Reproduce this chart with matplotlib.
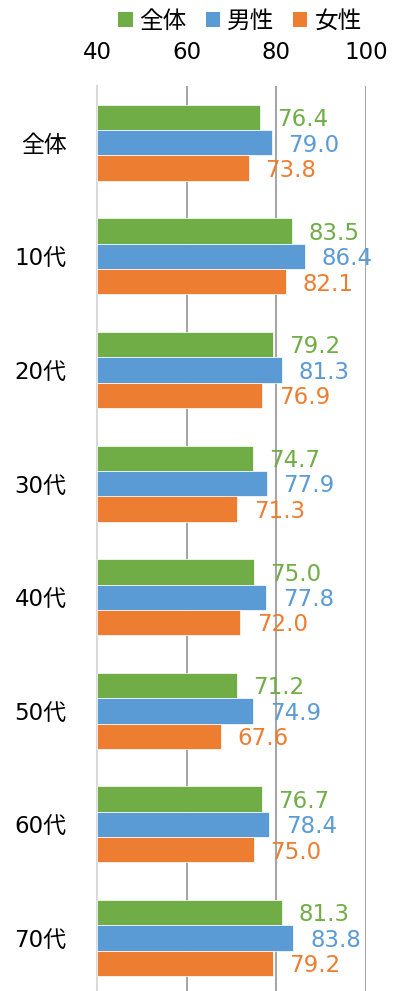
import numpy as np
import matplotlib
matplotlib.use("Agg")
import matplotlib.pyplot as plt
from matplotlib.patches import Patch

plt.rcParams["font.family"] = ["DejaVu Sans", "Noto Sans CJK JP"]

categories = ["全体", "10代", "20代", "30代", "40代", "50代", "60代", "70代"]
series_names = ["全体", "男性", "女性"]
total = [76.4, 83.5, 79.2, 74.7, 75.0, 71.2, 76.7, 81.3]
male = [79.0, 86.4, 81.3, 77.9, 77.8, 74.9, 78.4, 83.8]
female = [73.8, 82.1, 76.9, 71.3, 72.0, 67.6, 75.0, 79.2]
xticks = [40, 60, 80, 100]

colors = ["#70ad47", "#5b9bd5", "#ed7d31"]
values = [total, male, female]

W, H = 417, 991
fig = plt.figure(figsize=(W / 100, H / 100), dpi=100)
ax = fig.add_axes([97 / W, 0, (366 - 97) / W, (H - 86) / H])

y = np.arange(len(categories))
h = 0.223
for i, (vals, c) in enumerate(zip(values, colors)):
    pos = y + (i - 1) * h
    ax.barh(pos, np.array(vals) - 40, height=h, left=40, color=c,
            edgecolor="white", linewidth=0.5, zorder=3)
    for p, v in zip(pos, vals):
        ax.annotate(f"{v:.1f}", (v, p + 0.02), xytext=(12, 0), textcoords="offset points",
                    ha="left", va="center", fontsize=16.5, color=c)

ax.set_xlim(40, 100)
ax.set_ylim(7.466, -0.5)
ax.set_xticks(xticks)
ax.xaxis.tick_top()
ax.tick_params(axis="x", length=0, pad=16, labelsize=16.5)
ax.set_yticks(y)
ax.set_yticklabels(categories, fontsize=16.5)
ax.tick_params(axis="y", length=0, pad=22)
for s in ["top", "right", "bottom"]:
    ax.spines[s].set_visible(False)
ax.spines["left"].set_color("#d9d9d9")
ax.spines["left"].set_linewidth(1.5)
for xv in xticks[1:]:
    ax.axvline(xv, color="#a6a6a6", linewidth=1.5, zorder=1)

handles = [Patch(facecolor=c, label=n) for c, n in zip(colors, series_names)]
fig.legend(handles=handles, loc="center", bbox_to_anchor=(240 / W, 1 - 21 / H),
           ncol=3, frameon=False, fontsize=17, handlelength=0.6, handleheight=0.6,
           handletextpad=0.3, columnspacing=0.8)

fig.savefig("out.png", dpi=100)
